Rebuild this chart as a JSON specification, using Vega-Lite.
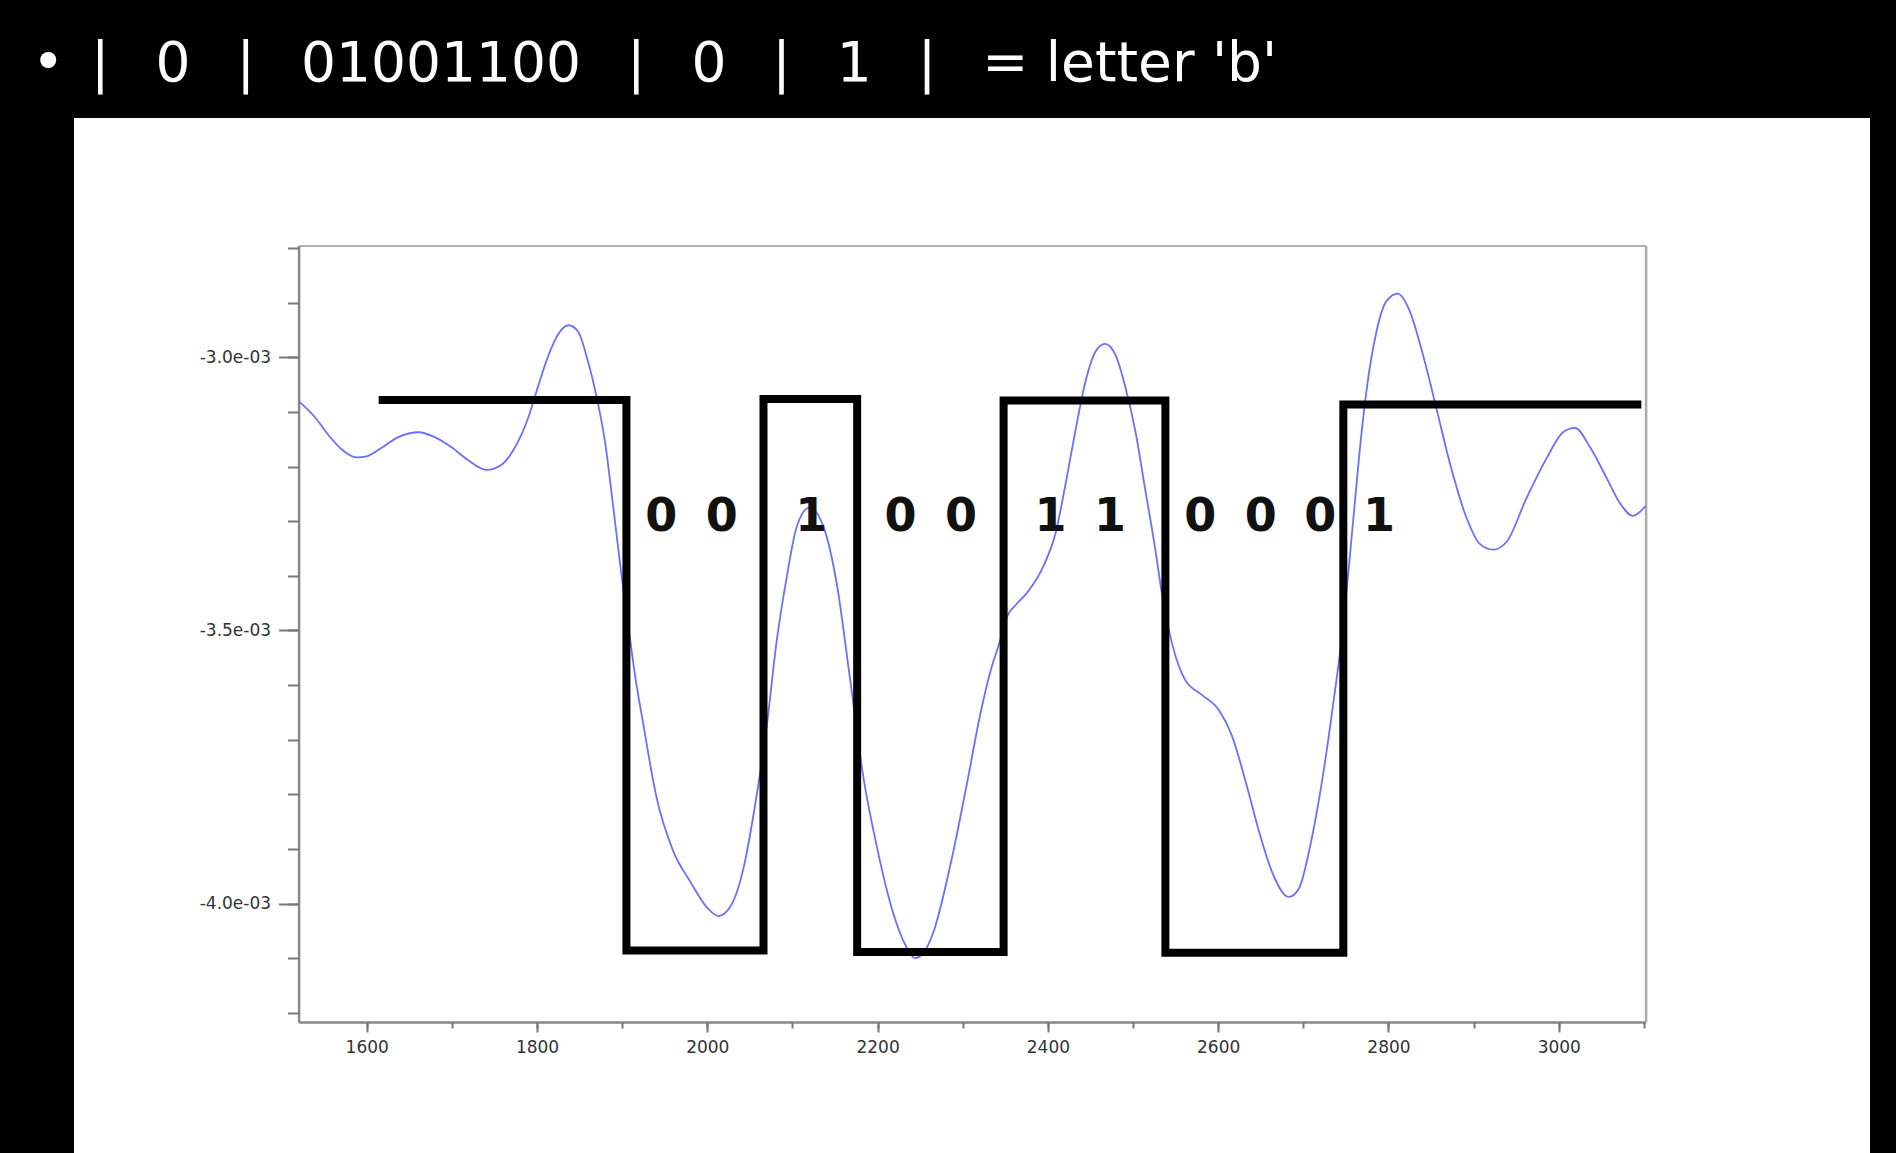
{
  "$schema": "https://vega.github.io/schema/vega-lite/v6.json",
  "background": "black",
  "autosize": "none",
  "padding": {"left": 74, "top": 118, "right": 26, "bottom": 0},
  "width": 1796,
  "height": 1035,
  "config": {
    "view": {"fill": "white", "stroke": null},
    "axis": {"zindex": 1, "grid": false, "title": null}
  },
  "title": {
    "text": "•\u00a0\u2006|\u00a0\u00a0\u20090\u00a0\u00a0\u2009|\u00a0\u00a0\u200901001100\u00a0\u00a0\u2009|\u00a0\u00a0\u20090\u00a0\u00a0\u2009|\u00a0\u00a0\u20091\u00a0\u00a0\u2009|\u00a0\u00a0\u2009= letter\u00a0'b'",
    "color": "white",
    "font": "DejaVu Sans",
    "fontSize": 55,
    "fontWeight": "normal",
    "anchor": "start",
    "frame": "group",
    "orient": "top",
    "baseline": "alphabetic",
    "offset": 31,
    "dx": -42,
    "dy": 49
  },
  "datasets": {
    "signal": [
      {"x": 1520, "y": -0.003080}, {"x": 1539, "y": -0.003109}, {"x": 1555, "y": -0.003142},
      {"x": 1571, "y": -0.003169}, {"x": 1588, "y": -0.003183}, {"x": 1600, "y": -0.003181},
      {"x": 1618, "y": -0.003165}, {"x": 1637, "y": -0.003146}, {"x": 1661, "y": -0.003137},
      {"x": 1680, "y": -0.003146}, {"x": 1700, "y": -0.003165}, {"x": 1719, "y": -0.003188},
      {"x": 1741, "y": -0.003206}, {"x": 1758, "y": -0.003197}, {"x": 1774, "y": -0.003165},
      {"x": 1790, "y": -0.003109}, {"x": 1801, "y": -0.003054}, {"x": 1813, "y": -0.002998},
      {"x": 1825, "y": -0.002957}, {"x": 1837, "y": -0.002941}, {"x": 1848, "y": -0.002952},
      {"x": 1860, "y": -0.003008}, {"x": 1870, "y": -0.003072}, {"x": 1880, "y": -0.003156},
      {"x": 1889, "y": -0.003267}, {"x": 1899, "y": -0.003396}, {"x": 1907, "y": -0.003488},
      {"x": 1915, "y": -0.003581}, {"x": 1925, "y": -0.003673}, {"x": 1940, "y": -0.003803},
      {"x": 1960, "y": -0.003904}, {"x": 1980, "y": -0.003960}, {"x": 1999, "y": -0.004006},
      {"x": 2013, "y": -0.004023}, {"x": 2027, "y": -0.004006}, {"x": 2043, "y": -0.003932},
      {"x": 2056, "y": -0.003821}, {"x": 2070, "y": -0.003673}, {"x": 2081, "y": -0.003525},
      {"x": 2093, "y": -0.003405}, {"x": 2105, "y": -0.003310}, {"x": 2120, "y": -0.003275},
      {"x": 2136, "y": -0.003308}, {"x": 2152, "y": -0.003414}, {"x": 2167, "y": -0.003581},
      {"x": 2183, "y": -0.003766}, {"x": 2199, "y": -0.003895}, {"x": 2218, "y": -0.004016},
      {"x": 2234, "y": -0.004080}, {"x": 2244, "y": -0.004100}, {"x": 2254, "y": -0.004090},
      {"x": 2265, "y": -0.004055}, {"x": 2285, "y": -0.003933}, {"x": 2305, "y": -0.003780},
      {"x": 2320, "y": -0.003658}, {"x": 2332, "y": -0.003578}, {"x": 2344, "y": -0.003518},
      {"x": 2352, "y": -0.003475}, {"x": 2363, "y": -0.003452}, {"x": 2375, "y": -0.003432},
      {"x": 2396, "y": -0.003378}, {"x": 2409, "y": -0.003322}, {"x": 2421, "y": -0.003230},
      {"x": 2432, "y": -0.003137}, {"x": 2444, "y": -0.003045}, {"x": 2456, "y": -0.002989},
      {"x": 2467, "y": -0.002975}, {"x": 2479, "y": -0.002994}, {"x": 2491, "y": -0.003054},
      {"x": 2503, "y": -0.003137}, {"x": 2514, "y": -0.003239}, {"x": 2526, "y": -0.003350},
      {"x": 2534, "y": -0.003433}, {"x": 2546, "y": -0.003525}, {"x": 2561, "y": -0.003590},
      {"x": 2581, "y": -0.003618}, {"x": 2601, "y": -0.003646}, {"x": 2616, "y": -0.003692},
      {"x": 2632, "y": -0.003775}, {"x": 2648, "y": -0.003868}, {"x": 2663, "y": -0.003941},
      {"x": 2683, "y": -0.003988}, {"x": 2695, "y": -0.003972}, {"x": 2708, "y": -0.003895},
      {"x": 2723, "y": -0.003766}, {"x": 2735, "y": -0.003636}, {"x": 2747, "y": -0.003488},
      {"x": 2755, "y": -0.003359}, {"x": 2766, "y": -0.003174}, {"x": 2774, "y": -0.003063},
      {"x": 2786, "y": -0.002952}, {"x": 2798, "y": -0.002896}, {"x": 2811, "y": -0.002883},
      {"x": 2825, "y": -0.002915}, {"x": 2841, "y": -0.002998}, {"x": 2856, "y": -0.003091},
      {"x": 2872, "y": -0.003193}, {"x": 2892, "y": -0.003295}, {"x": 2907, "y": -0.003341},
      {"x": 2923, "y": -0.003352}, {"x": 2939, "y": -0.003337}, {"x": 2962, "y": -0.003258},
      {"x": 2986, "y": -0.003184}, {"x": 3005, "y": -0.003137}, {"x": 3019, "y": -0.003129},
      {"x": 3037, "y": -0.003165}, {"x": 3056, "y": -0.003220}, {"x": 3072, "y": -0.003267},
      {"x": 3087, "y": -0.003290}, {"x": 3102, "y": -0.003272}
    ],
    "wave": [
      {"i": 0, "x": 1614, "y": -0.003078}, {"i": 1, "x": 1905, "y": -0.003078},
      {"i": 2, "x": 1905, "y": -0.004086}, {"i": 3, "x": 2066, "y": -0.004086},
      {"i": 4, "x": 2066, "y": -0.003076}, {"i": 5, "x": 2176, "y": -0.003076},
      {"i": 6, "x": 2176, "y": -0.004089}, {"i": 7, "x": 2348, "y": -0.004089},
      {"i": 8, "x": 2348, "y": -0.003079}, {"i": 9, "x": 2538, "y": -0.003079},
      {"i": 10, "x": 2538, "y": -0.004090}, {"i": 11, "x": 2747, "y": -0.004090},
      {"i": 12, "x": 2747, "y": -0.003086}, {"i": 13, "x": 3097, "y": -0.003086}
    ],
    "bits": [
      {"x": 1946, "y": -0.003293, "b": "0"}, {"x": 2017, "y": -0.003293, "b": "0"},
      {"x": 2122, "y": -0.003293, "b": "1"}, {"x": 2227, "y": -0.003293, "b": "0"},
      {"x": 2298, "y": -0.003293, "b": "0"}, {"x": 2403, "y": -0.003293, "b": "1"},
      {"x": 2473, "y": -0.003293, "b": "1"}, {"x": 2579, "y": -0.003293, "b": "0"},
      {"x": 2650, "y": -0.003293, "b": "0"}, {"x": 2720, "y": -0.003293, "b": "0"},
      {"x": 2789, "y": -0.003293, "b": "1"}
    ]
  },
  "layer": [
    {
      "data": {"name": "signal"},
      "mark": {"type": "line", "color": "#6e6eff", "strokeWidth": 1.8, "interpolate": "monotone"},
      "encoding": {
        "x": {
          "field": "x", "type": "quantitative",
          "scale": {"domain": [1520, 3102], "range": [224.6, 1571.6], "nice": false, "zero": false},
          "axis": {
            "orient": "bottom", "offset": -131,
            "values": [1600, 1800, 2000, 2200, 2400, 2600, 2800, 3000],
            "format": "d",
            "tickSize": 10, "tickWidth": 2, "tickColor": "#777",
            "labelFont": "DejaVu Sans", "labelFontSize": 17, "labelColor": "#333", "labelPadding": 7,
            "domainColor": "#888", "domainWidth": 2.5
          }
        },
        "y": {
          "field": "y", "type": "quantitative",
          "scale": {"domain": [-0.004217, -0.002795], "range": [904, 127.5], "nice": false, "zero": false},
          "axis": {
            "orient": "left", "offset": -224.6,
            "values": [-0.004, -0.0035, -0.003],
            "labelExpr": "replace(replace(format(datum.value, '.1e'), 'e-', 'e-0'), '\u2212', '-')",
            "tickSize": 20, "tickWidth": 2, "tickColor": "#777",
            "labelFont": "DejaVu Sans", "labelFontSize": 17, "labelColor": "#333", "labelPadding": 8,
            "domainColor": "#888", "domainWidth": 2.5
          }
        }
      }
    },
    {
      "data": {"name": "wave"},
      "mark": {"type": "line", "color": "black", "strokeWidth": 8, "strokeJoin": "miter", "strokeCap": "butt"},
      "encoding": {
        "x": {
          "field": "x", "type": "quantitative",
          "axis": {
            "orient": "bottom", "offset": -131,
            "values": [1600, 1700, 1800, 1900, 2000, 2100, 2200, 2300, 2400, 2500, 2600, 2700, 2800, 2900, 3000, 3100],
            "labels": false, "domain": false,
            "tickSize": 6, "tickWidth": 2, "tickColor": "#777"
          }
        },
        "y": {
          "field": "y", "type": "quantitative",
          "axis": {
            "orient": "left", "offset": -224.6,
            "values": [-0.0042, -0.0041, -0.004, -0.0039, -0.0038, -0.0037, -0.0036, -0.0035, -0.0034, -0.0033, -0.0032, -0.0031, -0.003, -0.0029, -0.0028],
            "labels": false, "domain": false,
            "tickSize": 11, "tickWidth": 2, "tickColor": "#777"
          }
        },
        "order": {"field": "i", "type": "quantitative"}
      }
    },
    {
      "data": {"name": "bits"},
      "mark": {"type": "text", "font": "DejaVu Sans", "fontSize": 46, "fontWeight": "bold", "color": "#111", "align": "center", "baseline": "middle"},
      "encoding": {
        "x": {
          "field": "x", "type": "quantitative",
          "axis": {"orient": "top", "offset": -127.5, "ticks": false, "labels": false, "domainColor": "#999", "domainWidth": 1.5}
        },
        "y": {
          "field": "y", "type": "quantitative",
          "axis": {"orient": "right", "offset": -224.4, "ticks": false, "labels": false, "domainColor": "#aaa", "domainWidth": 2.5}
        },
        "text": {"field": "b", "type": "nominal"}
      }
    }
  ],
  "resolve": {"axis": {"x": "independent", "y": "independent"}}
}
